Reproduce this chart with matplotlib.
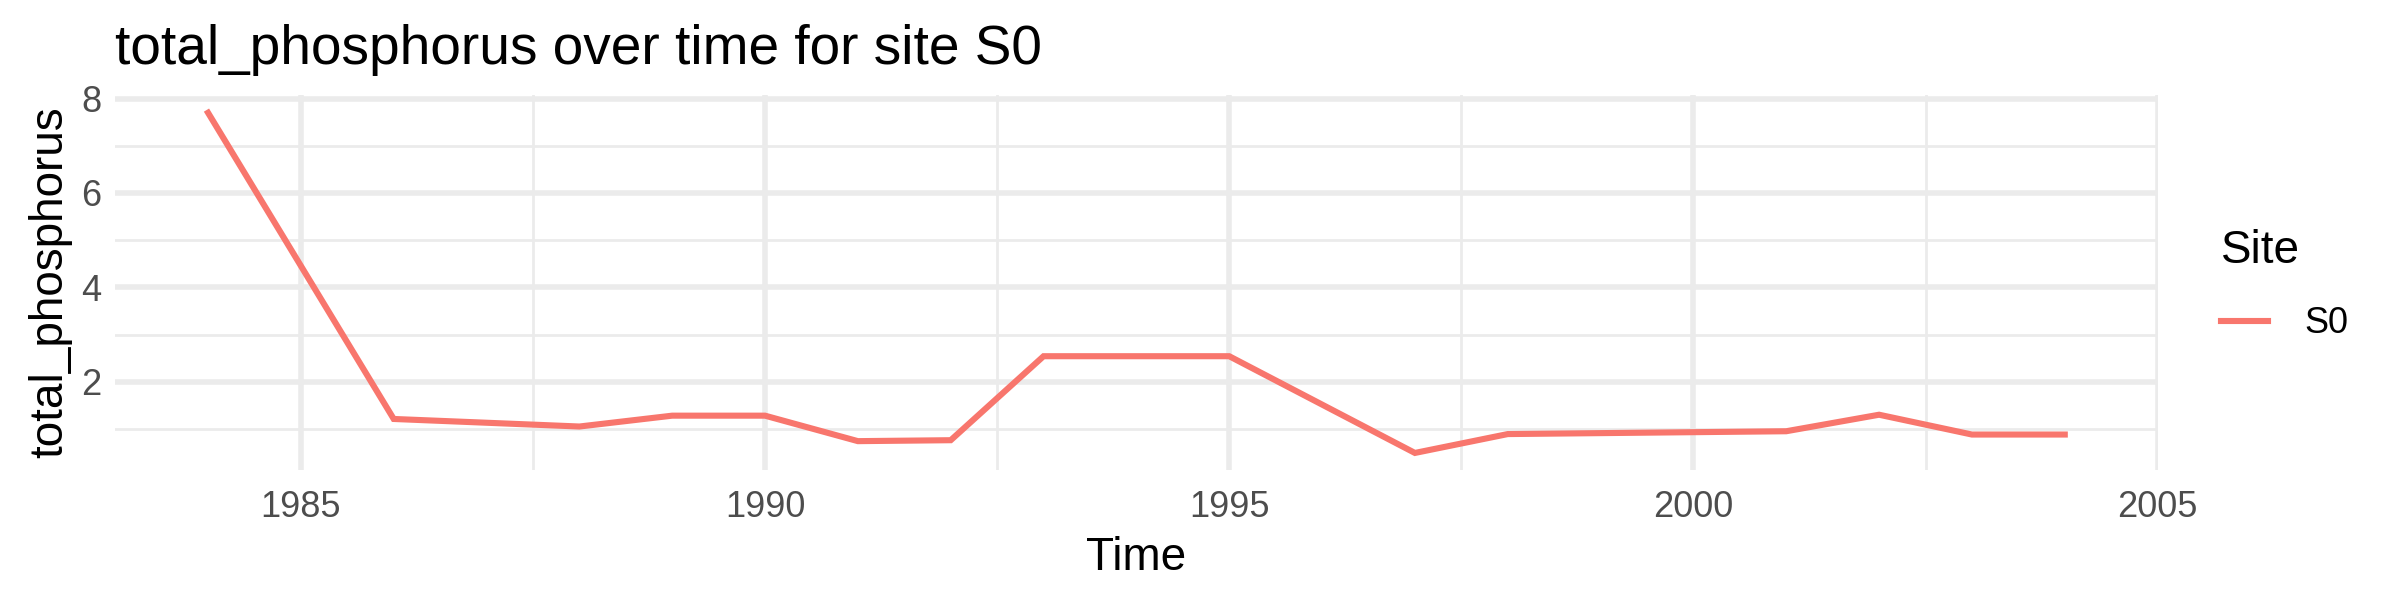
import matplotlib
matplotlib.use("Agg")
from matplotlib import pyplot as plt
from matplotlib.ticker import MultipleLocator

plt.rcParams['font.family'] = ['Liberation Sans', 'DejaVu Sans']

years = [1984, 1986, 1988, 1989, 1990, 1991, 1992, 1993, 1995,
         1997, 1998, 2001, 2002, 2003, 2004]
total_phosphorus = [7.70, 1.21, 1.05, 1.28, 1.28, 0.74, 0.76, 2.54, 2.54,
                    0.49, 0.89, 0.95, 1.30, 0.88, 0.88]
site = "S0"
line_color = "#F8766D"
grid_color = "#EBEBEB"

fig = plt.figure(figsize=(12, 3), dpi=200)
ax = fig.add_axes([0.048, 0.216, 0.851, 0.626])

ax.plot(years, total_phosphorus, color=line_color, linewidth=2.2, label=site,
        solid_joinstyle="miter", zorder=3)

ax.set_xlim(1983, 2005)
ax.set_ylim(0.12, 8.08)
ax.xaxis.set_major_locator(MultipleLocator(5))
ax.xaxis.set_minor_locator(MultipleLocator(2.5))
ax.yaxis.set_major_locator(MultipleLocator(2))
ax.yaxis.set_minor_locator(MultipleLocator(1))
ax.set_yticks([2, 4, 6, 8])

ax.grid(which="major", color=grid_color, linewidth=2.0)
ax.grid(which="minor", color=grid_color, linewidth=1.0)
ax.set_axisbelow(True)
for s in ax.spines.values():
    s.set_visible(False)
ax.tick_params(which="both", length=0, labelsize=13, labelcolor="#4D4D4D")
ax.tick_params(axis="x", pad=7)
ax.tick_params(axis="y", pad=5)

ax.set_xlabel("Time", fontsize=16.5, labelpad=4)
ax.set_ylabel("total_phosphorus", fontsize=16.5, labelpad=3)
ax.set_title("total_phosphorus over time for site S0", fontsize=19.8,
             loc="left", pad=11)

leg = fig.legend(loc="center left", bbox_to_anchor=(0.915, 0.525), frameon=False,
                 title="Site", fontsize=13, title_fontsize=16.5,
                 handlelength=1.3, handletextpad=1.0, alignment="left",
                 borderaxespad=0.3)
leg._legend_box.sep = 12

plt.savefig("out.png")
